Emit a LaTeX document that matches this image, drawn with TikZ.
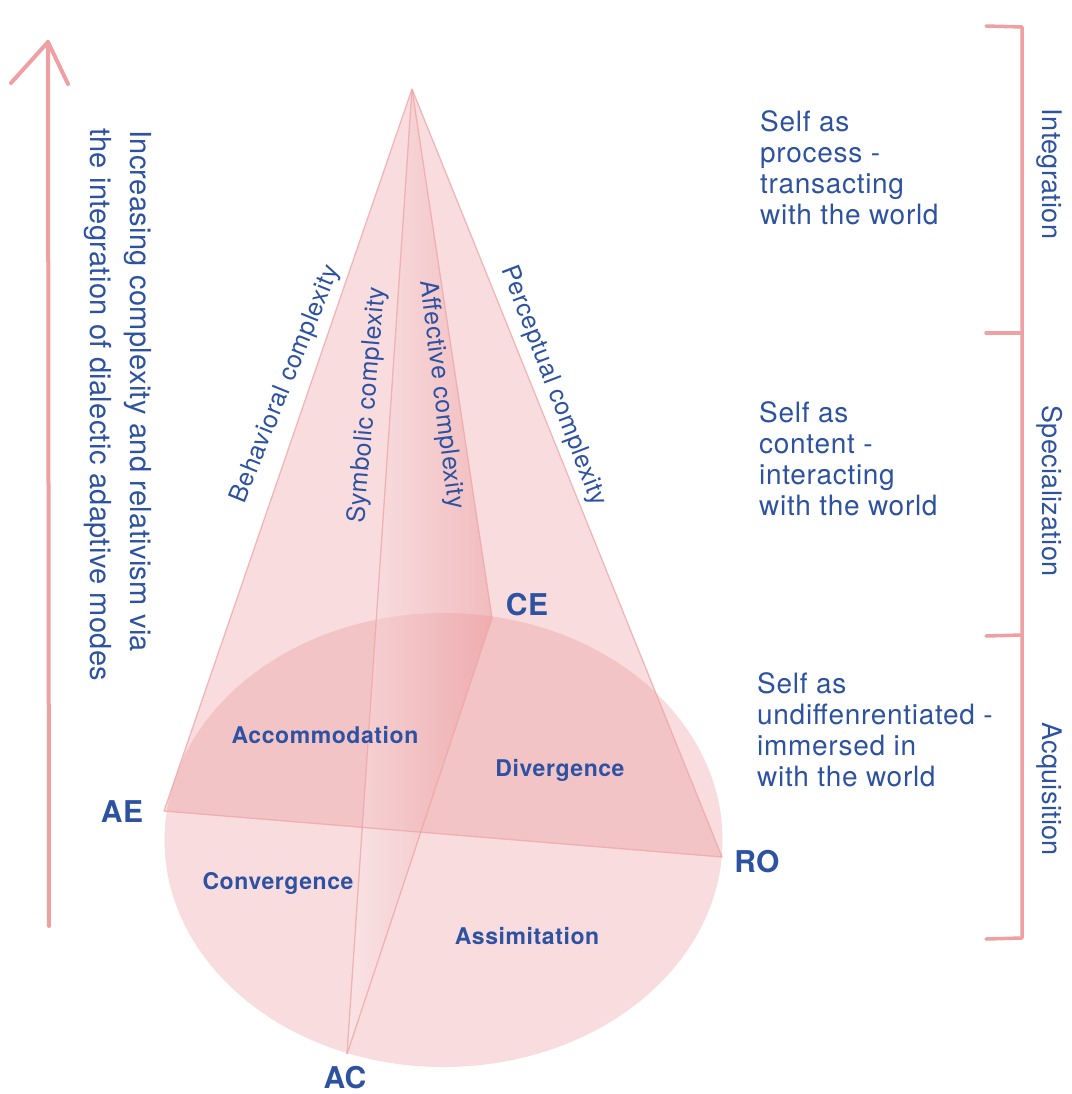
\documentclass[tikz,border=0pt]{standalone}
\usepackage{fontspec}
\setmainfont{TeX Gyre Heros}
\newfontfamily\trk[LetterSpace=2.5]{TeX Gyre Heros}
\newfontfamily\trkb[LetterSpace=1.2]{TeX Gyre Heros}
\definecolor{txt}{RGB}{46,82,162}
\definecolor{pk}{RGB}{232,140,145}
\definecolor{pkline}{RGB}{238,165,168}
\definecolor{hand}{RGB}{238,160,163}
\begin{document}
\begin{tikzpicture}[x=1pt,y=-1pt,
  every node/.style={inner sep=0pt, text=txt},
  block/.style={font=\trk\fontsize{28}{31}\selectfont, align=left, anchor=north west},
  sidelabel/.style={font=\trkb\fontsize{27}{30}\selectfont, rotate=-90, anchor=base},
  axislabel/.style={font=\trk\fontsize{25}{28}\selectfont, anchor=center},
  vertex/.style={font=\trkb\bfseries\fontsize{30}{34}\selectfont, anchor=center},
  region/.style={font=\trk\bfseries\fontsize{23}{26}\selectfont, anchor=center},
  edge/.style={draw=pkline, line width=1.3pt, draw opacity=0.75},
  handline/.style={draw=hand, line width=4pt, line cap=round, line join=round}]
\useasboundingbox (0,0) rectangle (1071,1094);

% geometry
\coordinate (apex) at (412,89);
\coordinate (AEp) at (164,811);
\coordinate (CEp) at (492,618);
\coordinate (ROp) at (722,857);
\coordinate (ACp) at (347,1054);

% fills
\fill[pk, fill opacity=0.3] (443.5,840) ellipse [x radius=279, y radius=227];
\fill[pk, fill opacity=0.3] (apex) -- (AEp) -- (ROp) -- cycle;
\shade[left color=pk!15, right color=pk, fill opacity=0.4] (apex) -- (ACp) -- (CEp) -- cycle;

% edges
\draw[edge] (apex) -- (AEp);
\draw[edge] (apex) -- (ROp);
\draw[edge] (apex) -- (ACp);
\draw[edge] (apex) -- (CEp);
\draw[edge] (AEp) -- (ROp);
\draw[edge] (CEp) -- (ACp);

% vertex labels
\node[vertex] (AE) at (122,812) {AE};
\node[vertex] (CE) at (527,605) {CE};
\node[vertex] (RO) at (757,862) {RO};
\node[vertex] (AC) at (345,1078) {AC};

% region labels
\node[region] (accom) at (325,735) {Accommodation};
\node[region] (diverg) at (560,770) {Divergence};
\node[region] (converg) at (278,883) {Convergence};
\node[region] (assim) at (527,936) {Assimitation};

% axis labels
\node[axislabel, rotate=68] (behav) at (286,384) {Behavioral complexity};
\node[axislabel, rotate=85] (symb) at (368,405) {Symbolic complexity};
\node[axislabel, rotate=-83] (affect) at (441,395) {Affective complexity};
\node[axislabel, rotate=-69] (percep) at (553,386) {Perceptual complexity};

% left arrow
\coordinate (arrbot) at (49,926);
\coordinate (arrtop) at (48,42);
\coordinate (arrl) at (11,83);
\coordinate (arrr) at (68,84);
\draw[handline] (arrbot) -- (arrtop);
\draw[handline] (arrl) -- (arrtop) -- (arrr);

\node[font=\trkb\fontsize{29}{40}\selectfont, rotate=-90, anchor=base west] (lt1) at (130,130) {Increasing complexity and relativism via};
\node[font=\trkb\fontsize{29}{40}\selectfont, rotate=-90, anchor=base west] (lt2) at (90,128) {the integration of dialectic adaptive modes};

% right bracket
\coordinate (b0) at (1022,27);
\coordinate (b1) at (1022,333);
\coordinate (b2) at (1022,635);
\coordinate (b3) at (1022,938);
\coordinate (t0) at (986,26);
\coordinate (t1) at (986,333);
\coordinate (t2) at (986,636);
\coordinate (t3) at (986,939);
\draw[handline, line width=3.5pt] (t0) -- (b0) -- (b3) -- (t3);
\draw[handline, line width=3.5pt] (t1) -- (b1);
\draw[handline, line width=3.5pt] (t2) -- (b2);

\node[sidelabel] (integ) at (1042,174) {Integration};
\node[sidelabel] (spec) at (1042,491) {Specialization};
\node[sidelabel] (acq) at (1042,789) {Acquisition};

% right text blocks
\node[block] (blk1) at (760,110) {Self as\\process -\\transacting\\with the world};
\node[block] (blk2) at (759,401) {Self as\\content -\\interacting\\with the world};
\node[block] (blk3) at (757,672) {Self as\\undiffenrentiated -\\immersed in\\with the world};
\end{tikzpicture}
\end{document}
